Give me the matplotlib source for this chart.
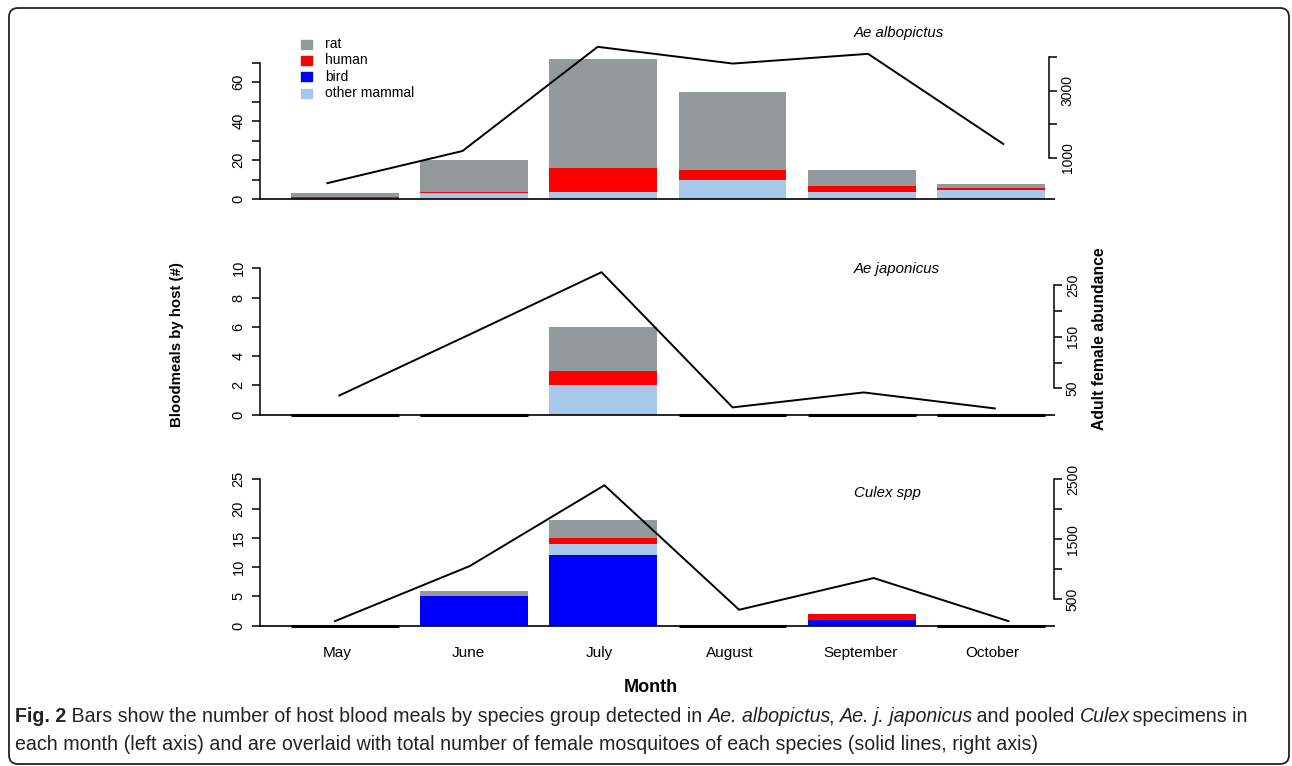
import matplotlib
matplotlib.use("Agg")
import matplotlib.pyplot as plt
from matplotlib.patches import Rectangle, FancyBboxPatch
from matplotlib.transforms import IdentityTransform
from matplotlib import font_manager

W, H = 1292, 766

months = ["May", "June", "July", "August", "September", "October"]
stack_order = ["bird", "other mammal", "human", "rat"]
legend_order = ["rat", "human", "bird", "other mammal"]
host_colors = {"rat": "#949a9b", "human": "#ff0000", "bird": "#0000ff",
               "other mammal": "#a6c8ea"}

# blood meals by host (left axis)
albo_rat = [2, 16, 56, 40, 8, 2]
albo_human = [1, 1, 12, 5, 3, 1]
albo_bird = [0, 0, 0, 0, 0, 0]
albo_other = [0, 3, 4, 10, 4, 5]

japo_rat = [0, 0, 3, 0, 0, 0]
japo_human = [0, 0, 1, 0, 0, 0]
japo_bird = [0, 0, 0, 0, 0, 0]
japo_other = [0, 0, 2, 0, 0, 0]

culex_rat = [0, 1, 3, 0, 0, 0]
culex_human = [0, 0, 1, 0, 1, 0]
culex_bird = [0, 5, 12, 0, 1, 0]
culex_other = [0, 0, 2, 0, 0, 0]

# adult female abundance (right axis)
albo_abund = [240, 1200, 4310, 3810, 4100, 1410]
japo_abund = [36, 155, 275, 13, 42, 11]
culex_abund = [130, 1050, 2400, 320, 850, 130]

plt.rcParams["font.family"] = ["Liberation Sans", "DejaVu Sans"]

fig = plt.figure(figsize=(W / 100, H / 100), dpi=100)


def px_axes(left, top, right, bottom):
    return fig.add_axes([left / W, 1 - bottom / H, (right - left) / W, (bottom - top) / H])


# bar x mapping (pixels)
BAR0 = 344.7
BAR_PX = 107.75


def bar_x(px):
    return (px - BAR0) / BAR_PX + 0.7


def panel(T, B, data, y0, k, lticks, llabels, abund, p0, s, R,
          rref, rref_px, rk, rticks, rlabels, title, title_y):
    axb = px_axes(260, T, 1055, B)
    axb.set_xlim(bar_x(260), bar_x(1055))
    axb.set_ylim((y0 - B) / k, (y0 - T) / k)
    xs = [0.7 + 1.2 * i for i in range(len(months))]
    bottom = [0] * len(months)
    for h in stack_order:
        axb.bar(xs, data[h], width=1.0, bottom=bottom, color=host_colors[h],
                edgecolor="none", zorder=2)
        bottom = [b + v for b, v in zip(bottom, data[h])]
    for x, tot in zip(xs, bottom):
        if tot == 0:
            axb.hlines(0, x - 0.5, x + 0.5, color="black", lw=2.2, zorder=3)
    axb.axhline(0, color="black", lw=1.2, zorder=3)
    for sp in ["top", "right", "bottom"]:
        axb.spines[sp].set_visible(False)
    axb.spines["left"].set_bounds(lticks[0], lticks[-1])
    axb.spines["left"].set_linewidth(1.1)
    axb.set_xticks([])
    axb.set_yticks(lticks)
    axb.set_yticklabels(llabels, rotation=90, va="center")
    axb.tick_params(axis="y", length=5.8, width=1.1, labelsize=10.5, pad=4.5)
    axb.patch.set_visible(False)

    axl = px_axes(260, T, R, B)
    axl.set_xlim((260 - p0) / s, (R - p0) / s)
    axl.set_ylim(rref + (rref_px - B) / rk, rref + (rref_px - T) / rk)
    axl.plot(range(len(months)), abund, color="black", lw=1.4, zorder=4)
    for sp in ["top", "left", "bottom"]:
        axl.spines[sp].set_visible(False)
    axl.spines["right"].set_bounds(rticks[0], rticks[-1])
    axl.spines["right"].set_linewidth(1.1)
    axl.yaxis.tick_right()
    axl.set_xticks([])
    axl.set_yticks(rticks)
    axl.set_yticklabels(rlabels, rotation=90, va="center")
    axl.tick_params(axis="y", length=5.5, width=1.1, labelsize=10, pad=3)
    axl.patch.set_visible(False)

    fig.text(854 / W, 1 - title_y / H, title, style="italic", fontsize=10.8,
             ha="left", va="center")
    return axb


panel(30, 205,
      {"rat": albo_rat, "human": albo_human, "bird": albo_bird, "other mammal": albo_other},
      199.3, 1.95, [0, 10, 20, 30, 40, 50, 60, 70], ["0", "", "20", "", "40", "", "60", ""],
      albo_abund, 327.3, 135.2, 1049,
      1000, 157.7, 0.0335, [1000, 2000, 3000, 4000], ["1000", "", "3000", ""],
      "Ae albopictus", 33)

panel(255, 420,
      {"rat": japo_rat, "human": japo_human, "bird": japo_bird, "other mammal": japo_other},
      414.7, 14.64, [0, 2, 4, 6, 8, 10], ["0", "2", "4", "6", "8", "10"],
      japo_abund, 339.3, 131.1, 1054,
      50, 388.3, 0.516, [50, 100, 150, 200, 250], ["50", "", "150", "", "250"],
      "Ae japonicus", 269)

panel(470, 632,
      {"rat": culex_rat, "human": culex_human, "bird": culex_bird, "other mammal": culex_other},
      625.7, 5.856, [0, 5, 10, 15, 20, 25], ["0", "5", "10", "15", "20", "25"],
      culex_abund, 335, 134.7, 1054,
      500, 599, 0.05985, [500, 1000, 1500, 2000, 2500], ["500", "", "1500", "", "2500"],
      "Culex spp", 493)

# month labels
axm = px_axes(260, 643, 1055, 663)
axm.set_xlim((260 - 337) / 131.0, (1055 - 337) / 131.0)
axm.set_ylim(-1, 1)
axm.axis("off")
for i, m in enumerate(months):
    axm.text(i, 0, m, ha="center", va="center", fontsize=11)

fig.text(651 / W, 1 - 687 / H, "Month", fontweight="bold", fontsize=13,
         ha="center", va="center")
fig.text(177 / W, 1 - 345 / H, "Bloodmeals by host (#)", rotation=90,
         fontweight="bold", fontsize=10.8, ha="center", va="center")
fig.text(1100 / W, 1 - 339 / H, "Adult female abundance", rotation=90,
         fontweight="bold", fontsize=11.3, ha="center", va="center")

# legend
for j, h in enumerate(legend_order):
    yc = 44 + 16.4 * j
    fig.add_artist(Rectangle((301 / W, 1 - (yc + 4.5) / H), 11 / W, 9 / H,
                             transform=fig.transFigure, color=host_colors[h]))
    fig.text(325 / W, 1 - yc / H, h, fontsize=10, ha="left", va="center")

# frame
fig.add_artist(FancyBboxPatch((9, H - 764), 1280, 756,
                              boxstyle="round,pad=0,rounding_size=9",
                              transform=IdentityTransform(), facecolor="none",
                              edgecolor="#222222", lw=1.3))

# caption
names = {f.name for f in font_manager.fontManager.ttflist}
cap_font = "Liberation Sans Narrow" if "Liberation Sans Narrow" in names else "Liberation Sans"

line1 = [("Fig. 2", "normal", "bold"),
         (" Bars show the number of host blood meals by species group detected in ", "normal", "normal"),
         ("Ae. albopictus", "italic", "normal"),
         (", ", "normal", "normal"),
         ("Ae. j. japonicus", "italic", "normal"),
         (" and pooled ", "normal", "normal"),
         ("Culex", "italic", "normal"),
         (" specimens in", "normal", "normal")]
line2 = [("each month (left axis) and are overlaid with total number of female mosquitoes "
          "of each species (solid lines, right axis)", "normal", "normal")]

renderer = fig.canvas.get_renderer()


def draw_line(pieces, x0, yc, size):
    x = x0
    texts = []
    for s_, st, wt in pieces:
        t = fig.text(x / W, 1 - yc / H, s_, fontsize=size, style=st, fontweight=wt,
                     family=[cap_font, "DejaVu Sans"], ha="left", va="center",
                     color="#222222")
        x += t.get_window_extent(renderer).width
        if st == "italic":
            x -= 2.5
        texts.append(t)
    return texts, x - x0


size = 13
texts, w = draw_line(line1, 15, 717, size)
for t in texts:
    t.remove()
size = size * 1222 / w
draw_line(line1, 15, 717, size)
draw_line(line2, 15, 745, size)

fig.savefig("out.png", dpi=100)
